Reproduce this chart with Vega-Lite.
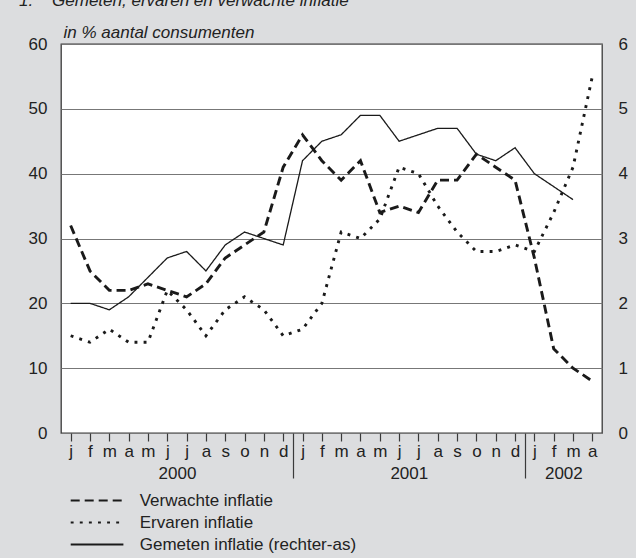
{
  "$schema": "https://vega.github.io/schema/vega-lite/v6.json",
  "width": 541,
  "height": 389,
  "autosize": "none",
  "padding": {"left": 61, "top": 44, "right": 34, "bottom": 125},
  "background": "#dcdddf",
  "title": {
    "text": "1.\u00a0\u00a0\u00a0\u00a0Gemeten, ervaren en verwachte inflatie",
    "anchor": "start",
    "frame": "group",
    "dx": -42,
    "dy": 3,
    "offset": 16,
    "font": "Liberation Sans",
    "fontSize": 17,
    "fontStyle": "italic",
    "fontWeight": "normal",
    "color": "#222222"
  },
  "config": {
    "font": "Liberation Sans",
    "view": {"fill": "#ffffff", "stroke": "#3a3a3a", "strokeWidth": 1.3}
  },
  "data": {
    "values": [
      {"maand": "2000-01", "reeks": "Verwachte inflatie", "waarde": 32},
      {"maand": "2000-02", "reeks": "Verwachte inflatie", "waarde": 25},
      {"maand": "2000-03", "reeks": "Verwachte inflatie", "waarde": 22},
      {"maand": "2000-04", "reeks": "Verwachte inflatie", "waarde": 22},
      {"maand": "2000-05", "reeks": "Verwachte inflatie", "waarde": 23},
      {"maand": "2000-06", "reeks": "Verwachte inflatie", "waarde": 22},
      {"maand": "2000-07", "reeks": "Verwachte inflatie", "waarde": 21},
      {"maand": "2000-08", "reeks": "Verwachte inflatie", "waarde": 23},
      {"maand": "2000-09", "reeks": "Verwachte inflatie", "waarde": 27},
      {"maand": "2000-10", "reeks": "Verwachte inflatie", "waarde": 29},
      {"maand": "2000-11", "reeks": "Verwachte inflatie", "waarde": 31},
      {"maand": "2000-12", "reeks": "Verwachte inflatie", "waarde": 41},
      {"maand": "2001-01", "reeks": "Verwachte inflatie", "waarde": 46},
      {"maand": "2001-02", "reeks": "Verwachte inflatie", "waarde": 42},
      {"maand": "2001-03", "reeks": "Verwachte inflatie", "waarde": 39},
      {"maand": "2001-04", "reeks": "Verwachte inflatie", "waarde": 42},
      {"maand": "2001-05", "reeks": "Verwachte inflatie", "waarde": 34},
      {"maand": "2001-06", "reeks": "Verwachte inflatie", "waarde": 35},
      {"maand": "2001-07", "reeks": "Verwachte inflatie", "waarde": 34},
      {"maand": "2001-08", "reeks": "Verwachte inflatie", "waarde": 39},
      {"maand": "2001-09", "reeks": "Verwachte inflatie", "waarde": 39},
      {"maand": "2001-10", "reeks": "Verwachte inflatie", "waarde": 43},
      {"maand": "2001-11", "reeks": "Verwachte inflatie", "waarde": 41},
      {"maand": "2001-12", "reeks": "Verwachte inflatie", "waarde": 39},
      {"maand": "2002-01", "reeks": "Verwachte inflatie", "waarde": 27},
      {"maand": "2002-02", "reeks": "Verwachte inflatie", "waarde": 13},
      {"maand": "2002-03", "reeks": "Verwachte inflatie", "waarde": 10},
      {"maand": "2002-04", "reeks": "Verwachte inflatie", "waarde": 8},
      {"maand": "2000-01", "reeks": "Ervaren inflatie", "waarde": 15},
      {"maand": "2000-02", "reeks": "Ervaren inflatie", "waarde": 14},
      {"maand": "2000-03", "reeks": "Ervaren inflatie", "waarde": 16},
      {"maand": "2000-04", "reeks": "Ervaren inflatie", "waarde": 14},
      {"maand": "2000-05", "reeks": "Ervaren inflatie", "waarde": 14},
      {"maand": "2000-06", "reeks": "Ervaren inflatie", "waarde": 22},
      {"maand": "2000-07", "reeks": "Ervaren inflatie", "waarde": 19},
      {"maand": "2000-08", "reeks": "Ervaren inflatie", "waarde": 15},
      {"maand": "2000-09", "reeks": "Ervaren inflatie", "waarde": 19},
      {"maand": "2000-10", "reeks": "Ervaren inflatie", "waarde": 21},
      {"maand": "2000-11", "reeks": "Ervaren inflatie", "waarde": 19},
      {"maand": "2000-12", "reeks": "Ervaren inflatie", "waarde": 15},
      {"maand": "2001-01", "reeks": "Ervaren inflatie", "waarde": 16},
      {"maand": "2001-02", "reeks": "Ervaren inflatie", "waarde": 20},
      {"maand": "2001-03", "reeks": "Ervaren inflatie", "waarde": 31},
      {"maand": "2001-04", "reeks": "Ervaren inflatie", "waarde": 30},
      {"maand": "2001-05", "reeks": "Ervaren inflatie", "waarde": 33},
      {"maand": "2001-06", "reeks": "Ervaren inflatie", "waarde": 41},
      {"maand": "2001-07", "reeks": "Ervaren inflatie", "waarde": 40},
      {"maand": "2001-08", "reeks": "Ervaren inflatie", "waarde": 35},
      {"maand": "2001-09", "reeks": "Ervaren inflatie", "waarde": 31},
      {"maand": "2001-10", "reeks": "Ervaren inflatie", "waarde": 28},
      {"maand": "2001-11", "reeks": "Ervaren inflatie", "waarde": 28},
      {"maand": "2001-12", "reeks": "Ervaren inflatie", "waarde": 29},
      {"maand": "2002-01", "reeks": "Ervaren inflatie", "waarde": 28},
      {"maand": "2002-02", "reeks": "Ervaren inflatie", "waarde": 34},
      {"maand": "2002-03", "reeks": "Ervaren inflatie", "waarde": 41},
      {"maand": "2002-04", "reeks": "Ervaren inflatie", "waarde": 55},
      {"maand": "2000-01", "reeks": "Gemeten inflatie (rechter-as)", "waarde": 2.0},
      {"maand": "2000-02", "reeks": "Gemeten inflatie (rechter-as)", "waarde": 2.0},
      {"maand": "2000-03", "reeks": "Gemeten inflatie (rechter-as)", "waarde": 1.9},
      {"maand": "2000-04", "reeks": "Gemeten inflatie (rechter-as)", "waarde": 2.1},
      {"maand": "2000-05", "reeks": "Gemeten inflatie (rechter-as)", "waarde": 2.4},
      {"maand": "2000-06", "reeks": "Gemeten inflatie (rechter-as)", "waarde": 2.7},
      {"maand": "2000-07", "reeks": "Gemeten inflatie (rechter-as)", "waarde": 2.8},
      {"maand": "2000-08", "reeks": "Gemeten inflatie (rechter-as)", "waarde": 2.5},
      {"maand": "2000-09", "reeks": "Gemeten inflatie (rechter-as)", "waarde": 2.9},
      {"maand": "2000-10", "reeks": "Gemeten inflatie (rechter-as)", "waarde": 3.1},
      {"maand": "2000-11", "reeks": "Gemeten inflatie (rechter-as)", "waarde": 3.0},
      {"maand": "2000-12", "reeks": "Gemeten inflatie (rechter-as)", "waarde": 2.9},
      {"maand": "2001-01", "reeks": "Gemeten inflatie (rechter-as)", "waarde": 4.2},
      {"maand": "2001-02", "reeks": "Gemeten inflatie (rechter-as)", "waarde": 4.5},
      {"maand": "2001-03", "reeks": "Gemeten inflatie (rechter-as)", "waarde": 4.6},
      {"maand": "2001-04", "reeks": "Gemeten inflatie (rechter-as)", "waarde": 4.9},
      {"maand": "2001-05", "reeks": "Gemeten inflatie (rechter-as)", "waarde": 4.9},
      {"maand": "2001-06", "reeks": "Gemeten inflatie (rechter-as)", "waarde": 4.5},
      {"maand": "2001-07", "reeks": "Gemeten inflatie (rechter-as)", "waarde": 4.6},
      {"maand": "2001-08", "reeks": "Gemeten inflatie (rechter-as)", "waarde": 4.7},
      {"maand": "2001-09", "reeks": "Gemeten inflatie (rechter-as)", "waarde": 4.7},
      {"maand": "2001-10", "reeks": "Gemeten inflatie (rechter-as)", "waarde": 4.3},
      {"maand": "2001-11", "reeks": "Gemeten inflatie (rechter-as)", "waarde": 4.2},
      {"maand": "2001-12", "reeks": "Gemeten inflatie (rechter-as)", "waarde": 4.4},
      {"maand": "2002-01", "reeks": "Gemeten inflatie (rechter-as)", "waarde": 4.0},
      {"maand": "2002-02", "reeks": "Gemeten inflatie (rechter-as)", "waarde": 3.8},
      {"maand": "2002-03", "reeks": "Gemeten inflatie (rechter-as)", "waarde": 3.6}
    ]
  },
  "layer": [
    {
      "transform": [{"filter": "datum.reeks !== 'Gemeten inflatie (rechter-as)'"}],
      "mark": {"type": "line", "color": "#1a1a1a", "strokeWidth": 2.9, "strokeCap": "butt", "strokeJoin": "miter"},
      "encoding": {
        "x": {
          "field": "maand", "type": "ordinal", "sort": "ascending",
          "scale": {"type": "point", "padding": 0.5},
          "axis": {
            "orient": "bottom", "title": null, "domain": false, "grid": false,
            "ticks": true, "tickSize": 8, "tickColor": "#3a3a3a", "tickWidth": 1.2,
            "labelExpr": "['j','f','m','a','m','j','j','a','s','o','n','d'][toNumber(slice(datum.value, 5)) - 1]",
            "labelAngle": 0, "labelFontSize": 17, "labelPadding": 2, "labelColor": "#222222",
            "labelFlush": false, "labelOverlap": false, "labelBound": false
          }
        },
        "y": {
          "field": "waarde", "type": "quantitative",
          "scale": {"domain": [0, 60], "nice": false},
          "axis": {
            "orient": "left", "values": [0, 10, 20, 30, 40, 50, 60],
            "grid": true, "gridColor": "#777777", "gridWidth": 1.2,
            "ticks": false, "domain": false,
            "labelPadding": 14, "labelFontSize": 17, "labelColor": "#222222",
            "labelFlush": false, "labelBound": false, "labelOverlap": false,
            "title": "in % aantal consumenten", "titleAngle": 0, "titleAlign": "left",
            "titleBaseline": "alphabetic", "titleX": 2, "titleY": -7,
            "titleFontStyle": "italic", "titleFontWeight": "normal", "titleFontSize": 17,
            "titleColor": "#222222"
          }
        },
        "strokeDash": {
          "field": "reeks", "type": "nominal",
          "scale": {
            "domain": ["Verwachte inflatie", "Ervaren inflatie", "Gemeten inflatie (rechter-as)"],
            "range": [[9, 5], [2.9, 6.2], [1, 0]]
          },
          "legend": {
            "title": null, "orient": "none", "legendX": 8.7, "legendY": 447,
            "direction": "vertical", "symbolType": "M-1,0H5.2", "symbolSize": 289,
            "symbolStrokeColor": "#1a1a1a", "symbolStrokeWidth": 2, "symbolFillColor": "transparent",
            "labelFontSize": 17, "labelColor": "#222222", "labelOffset": 51,
            "rowPadding": 4, "padding": 0, "labelLimit": 400
          }
        }
      }
    },
    {
      "transform": [{"filter": "datum.reeks === 'Gemeten inflatie (rechter-as)'"}],
      "mark": {"type": "line", "color": "#1a1a1a", "strokeWidth": 1.3},
      "encoding": {
        "x": {
          "field": "maand", "type": "ordinal", "sort": "ascending",
          "scale": {"type": "point", "padding": 0.5},
          "axis": {
            "orient": "bottom", "title": null, "domain": false, "grid": false,
            "values": ["2000-06", "2000-12", "2001-06", "2001-12", "2002-02"],
            "tickOffset": 9.66, "tickSize": 45, "tickColor": "#3a3a3a", "tickWidth": 1.2,
            "tickOpacity": {"condition": {"test": "datum.value == '2000-12' || datum.value == '2001-12'", "value": 1}, "value": 0},
            "labelExpr": "datum.value == '2000-06' ? '2000' : datum.value == '2001-06' ? '2001' : datum.value == '2002-02' ? '2002' : ''",
            "labelAngle": 0, "labelFontSize": 17, "labelPadding": -13, "labelColor": "#222222",
            "labelFlush": false, "labelOverlap": false, "labelBound": false
          }
        },
        "y": {
          "field": "waarde", "type": "quantitative",
          "scale": {"domain": [0, 6], "nice": false},
          "axis": {
            "orient": "right", "values": [0, 1, 2, 3, 4, 5, 6],
            "grid": false, "ticks": false, "domain": false,
            "labelPadding": 16, "labelFontSize": 17, "labelColor": "#222222",
            "labelFlush": false, "labelBound": false, "labelOverlap": false,
            "title": null
          }
        },
        "strokeDash": {
          "field": "reeks", "type": "nominal",
          "scale": {
            "domain": ["Verwachte inflatie", "Ervaren inflatie", "Gemeten inflatie (rechter-as)"],
            "range": [[9, 5], [2.9, 6.2], [1, 0]]
          }
        }
      }
    }
  ],
  "resolve": {"scale": {"y": "independent"}, "axis": {"x": "independent"}}
}
